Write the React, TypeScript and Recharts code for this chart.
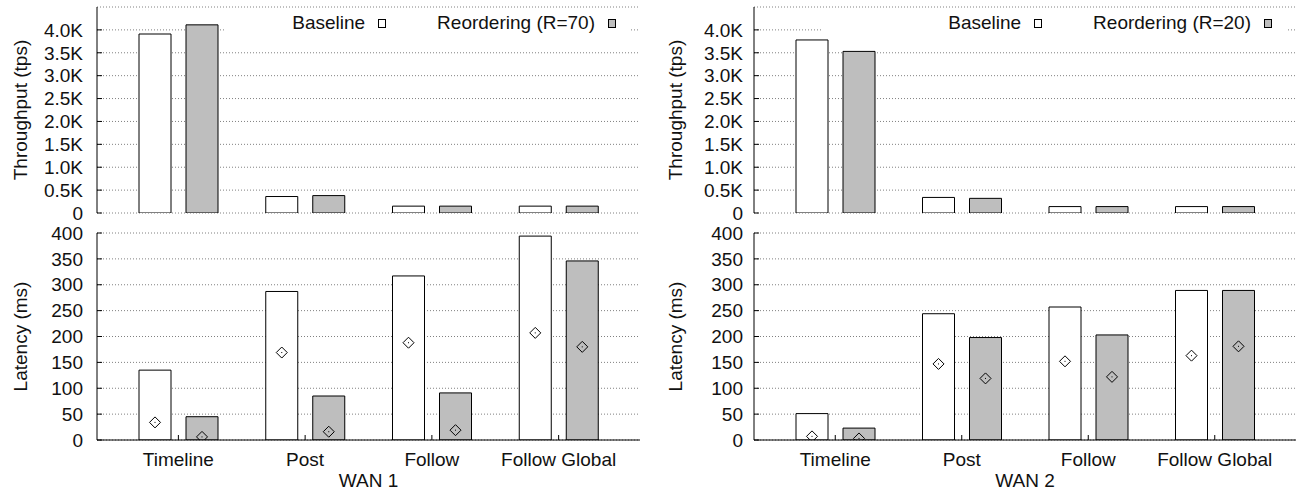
import React from "react";
import {
  BarChart,
  Bar,
  XAxis,
  YAxis,
  CartesianGrid,
  Legend,
} from "recharts";

const CATEGORIES = ["Timeline", "Post", "Follow", "Follow Global"];

// throughput (tps)
const WAN1_TPS_BASELINE = [3910, 360, 150, 150];
const WAN1_TPS_REORDER = [4110, 380, 150, 150];
const WAN2_TPS_BASELINE = [3780, 340, 140, 140];
const WAN2_TPS_REORDER = [3530, 320, 140, 140];

// latency (ms): bar = tail, diamond = median
const WAN1_LAT_BASELINE = [135, 287, 317, 394];
const WAN1_LAT_REORDER = [45, 85, 91, 346];
const WAN1_MED_BASELINE = [34, 169, 188, 207];
const WAN1_MED_REORDER = [6, 16, 19, 180];
const WAN2_LAT_BASELINE = [51, 244, 257, 289];
const WAN2_LAT_REORDER = [23, 198, 203, 289];
const WAN2_MED_BASELINE = [7, 147, 152, 163];
const WAN2_MED_REORDER = [3, 119, 122, 181];

const TPS_TICKS = [0, 500, 1000, 1500, 2000, 2500, 3000, 3500, 4000];
const LAT_TICKS = [0, 50, 100, 150, 200, 250, 300, 350, 400];

const FONT = "'Liberation Sans', Arial, Helvetica, sans-serif";
const TEXT = "#111";
const GRAY = "#bebebe";
const FS = 19;

const tickStyle = { fill: TEXT, fontSize: FS, fontFamily: FONT };

const fmtK = (v: number) => (v === 0 ? "0" : `${(v / 1000).toFixed(1)}K`);

const Diamond = (props: any) => {
  const { x, y, width } = props;
  const cx = x + width / 2;
  const r = 5.5;
  return (
    <g>
      <path
        d={`M${cx},${y - r}L${cx + r},${y}L${cx},${y + r}L${cx - r},${y}Z`}
        fill="none"
        stroke="#000"
        strokeWidth={1}
      />
      <rect x={cx - 0.5} y={y - 0.5} width={1} height={1} fill="#000" />
    </g>
  );
};

const renderLegend = (props: any) => {
  const items = (props.payload || []).filter((p: any) => p.type !== "none");
  return (
    <div
      style={{
        display: "flex",
        justifyContent: "flex-end",
        alignItems: "center",
        height: 28,
        background: "#fff",
        paddingRight: 14,
        fontFamily: FONT,
        fontSize: FS,
        color: TEXT,
        whiteSpace: "nowrap",
      }}
    >
      {items.map((it: any, i: number) => (
        <div
          key={i}
          style={{ display: "flex", alignItems: "center", marginLeft: i ? 51 : 0 }}
        >
          <span>{it.value}</span>
          <span
            style={{
              display: "inline-block",
              width: 6,
              height: 7,
              border: "1px solid #000",
              background: it.color,
              marginLeft: 13,
            }}
          />
        </div>
      ))}
    </div>
  );
};

interface PanelProps {
  width: number;
  yAxisWidth: number;
  marginRight: number;
  labelOffset: number;
  tickMargin: number;
}

function ThroughputChart({
  width,
  yAxisWidth,
  marginRight,
  labelOffset,
  tickMargin,
  baseline,
  reorder,
  reorderName,
  legendLeft,
}: PanelProps & {
  baseline: number[];
  reorder: number[];
  reorderName: string;
  legendLeft: number;
}) {
  const data = CATEGORIES.map((c, i) => ({
    category: c,
    baseline: baseline[i],
    reorder: reorder[i],
  }));
  return (
    <BarChart
      width={width}
      height={228}
      data={data}
      margin={{ top: 7, right: marginRight, bottom: 15, left: 0 }}
      barSize={32}
      barGap={15}
    >
      <CartesianGrid vertical={false} stroke="#808080" strokeDasharray="1 2" />
      <Bar dataKey="baseline" name="Baseline" fill="#fff" stroke="#000" isAnimationActive={false} />
      <Bar dataKey="reorder" name={reorderName} fill={GRAY} stroke="#000" isAnimationActive={false} />
      <XAxis
        dataKey="category"
        height={0}
        padding={{ left: 18, right: 18 }}
        tick={false}
        tickLine={false}
        axisLine={{ stroke: "#000" }}
      />
      <XAxis
        xAxisId="top"
        dataKey="category"
        orientation="top"
        height={0}
        padding={{ left: 18, right: 18 }}
        tick={false}
        tickLine={false}
        axisLine={{ stroke: "#000" }}
      />
      <YAxis
        domain={[0, 4500]}
        ticks={TPS_TICKS}
        interval={0}
        allowDataOverflow
        width={yAxisWidth}
        tickFormatter={fmtK}
        tick={tickStyle}
        tickSize={-5}
        tickMargin={tickMargin}
        tickLine={{ stroke: "#000" }}
        axisLine={{ stroke: "#000" }}
        label={{
          value: "Throughput (tps)",
          angle: -90,
          position: "insideLeft",
          offset: labelOffset,
          style: { textAnchor: "middle", fill: TEXT, fontSize: FS, fontFamily: FONT },
        }}
      />
      <YAxis
        yAxisId="mirror"
        orientation="right"
        domain={[0, 4500]}
        ticks={TPS_TICKS}
        interval={0}
        allowDataOverflow
        width={0}
        tick={false}
        tickSize={-5}
        tickLine={{ stroke: "#000" }}
        axisLine={{ stroke: "#000" }}
      />
      <Legend
        layout="horizontal"
        verticalAlign="middle"
        align="center"
        content={renderLegend}
        wrapperStyle={{
          left: legendLeft,
          top: 9,
          width: width - marginRight - legendLeft - 10,
          height: 28,
        }}
      />
    </BarChart>
  );
}

function LatencyChart({
  width,
  yAxisWidth,
  marginRight,
  labelOffset,
  tickMargin,
  baseline,
  reorder,
  medBaseline,
  medReorder,
  title,
}: PanelProps & {
  baseline: number[];
  reorder: number[];
  medBaseline: number[];
  medReorder: number[];
  title: string;
}) {
  const data = CATEGORIES.map((c, i) => ({
    category: c,
    baseline: baseline[i],
    reorder: reorder[i],
    medBaseline: medBaseline[i],
    medReorder: medReorder[i],
  }));
  return (
    <BarChart
      width={width}
      height={271}
      data={data}
      margin={{ top: 13, right: marginRight, bottom: 0, left: 0 }}
      barSize={32}
      barGap={15}
    >
      <CartesianGrid vertical={false} stroke="#808080" strokeDasharray="1 2" />
      <Bar dataKey="baseline" name="Baseline" fill="#fff" stroke="#000" isAnimationActive={false} />
      <Bar dataKey="reorder" name="Reordering" fill={GRAY} stroke="#000" isAnimationActive={false} />
      <Bar
        xAxisId="pts"
        dataKey="medBaseline"
        name="Baseline median"
        legendType="none"
        shape={Diamond}
        isAnimationActive={false}
      />
      <Bar
        xAxisId="pts"
        dataKey="medReorder"
        name="Reordering median"
        legendType="none"
        shape={Diamond}
        isAnimationActive={false}
      />
      <XAxis
        dataKey="category"
        height={51}
        interval={0}
        padding={{ left: 18, right: 18 }}
        tick={tickStyle}
        tickSize={-5}
        tickMargin={18}
        tickLine={{ stroke: "#000" }}
        axisLine={{ stroke: "#000" }}
        label={{
          value: title,
          position: "insideBottom",
          offset: 4,
          style: { fill: TEXT, fontSize: FS, fontFamily: FONT },
        }}
      />
      <XAxis
        xAxisId="pts"
        dataKey="category"
        orientation="top"
        height={0}
        interval={0}
        padding={{ left: 18, right: 18 }}
        tick={false}
        tickSize={-5}
        tickLine={{ stroke: "#000" }}
        axisLine={{ stroke: "#000" }}
      />
      <YAxis
        domain={[0, 400]}
        ticks={LAT_TICKS}
        interval={0}
        allowDataOverflow
        width={yAxisWidth}
        tick={tickStyle}
        tickSize={-5}
        tickMargin={tickMargin}
        tickLine={{ stroke: "#000" }}
        axisLine={{ stroke: "#000" }}
        label={{
          value: "Latency (ms)",
          angle: -90,
          position: "insideLeft",
          offset: labelOffset,
          style: { textAnchor: "middle", fill: TEXT, fontSize: FS, fontFamily: FONT },
        }}
      />
      <YAxis
        yAxisId="mirror"
        orientation="right"
        domain={[0, 400]}
        ticks={LAT_TICKS}
        interval={0}
        allowDataOverflow
        width={0}
        tick={false}
        tickSize={-5}
        tickLine={{ stroke: "#000" }}
        axisLine={{ stroke: "#000" }}
      />
    </BarChart>
  );
}

const LEFT = { width: 650, yAxisWidth: 97, marginRight: 10, labelOffset: 20, tickMargin: 19 };
const RIGHT = { width: 649, yAxisWidth: 104, marginRight: 3, labelOffset: 25, tickMargin: 16 };

export default function App() {
  return (
    <div
      style={{
        position: "absolute",
        left: 0,
        top: 0,
        width: 1299,
        height: 491,
        background: "#fff",
        overflow: "hidden",
      }}
    >
      <div style={{ position: "absolute", left: 0, top: 220 }}>
        <LatencyChart
          {...LEFT}
          baseline={WAN1_LAT_BASELINE}
          reorder={WAN1_LAT_REORDER}
          medBaseline={WAN1_MED_BASELINE}
          medReorder={WAN1_MED_REORDER}
          title="WAN 1"
        />
      </div>
      <div style={{ position: "absolute", left: 650, top: 220 }}>
        <LatencyChart
          {...RIGHT}
          baseline={WAN2_LAT_BASELINE}
          reorder={WAN2_LAT_REORDER}
          medBaseline={WAN2_MED_BASELINE}
          medReorder={WAN2_MED_REORDER}
          title="WAN 2"
        />
      </div>
      <div style={{ position: "absolute", left: 0, top: 0 }}>
        <ThroughputChart
          {...LEFT}
          baseline={WAN1_TPS_BASELINE}
          reorder={WAN1_TPS_REORDER}
          reorderName="Reordering (R=70)"
          legendLeft={225}
        />
      </div>
      <div style={{ position: "absolute", left: 650, top: 0 }}>
        <ThroughputChart
          {...RIGHT}
          baseline={WAN2_TPS_BASELINE}
          reorder={WAN2_TPS_REORDER}
          reorderName="Reordering (R=20)"
          legendLeft={171}
        />
      </div>
    </div>
  );
}
